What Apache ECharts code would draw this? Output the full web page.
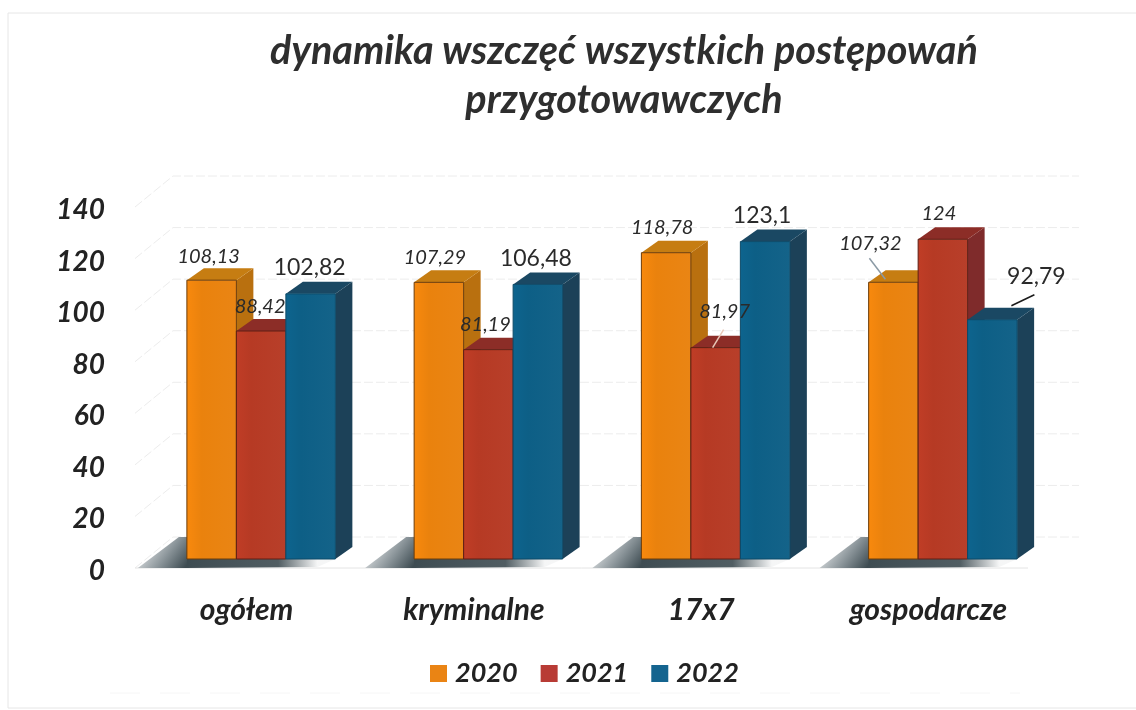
<!DOCTYPE html>
<html><head><meta charset="utf-8">
<style>html,body{margin:0;padding:0;background:#fff}#c{width:1136px;height:710px}</style>
<script src="https://cdn.jsdelivr.net/npm/echarts@6/dist/echarts.min.js"></script>
</head><body><div id="c"></div>
<script>
const categories = ['ogółem', 'kryminalne', '17x7', 'gospodarcze'];
const years = ['2020', '2021', '2022'];
const values2020 = [108.13, 107.29, 118.78, 107.32];
const values2021 = [88.42, 81.19, 81.97, 124];
const values2022 = [102.82, 106.48, 123.1, 92.79];
const yTicks = [0, 20, 40, 60, 80, 100, 120, 140];

const allValues = [values2020, values2021, values2022];
const palette = [
  {front: '#ea820d', side: '#b9700f', top: '#c67d12', edge: '#6b3c0a', legend: '#ea8414'},
  {front: '#b63a24', side: '#7f2b2b', top: '#8c2d27', edge: '#5e1f14', legend: '#b83b35'},
  {front: '#0d5f86', side: '#1c4158', top: '#1a4863', edge: '#0d4a68', legend: '#14648f'}
];
// label offsets from the top centre of each bar's front face [year][category]
const labelShift = [
  [[-3, -24], [-4, -25], [-4, -25], [-23, -39]],
  [[-1, -24], [-3, -25], [9, -36], [-4, -26]],
  [[-1, -26], [-2, -26], [-3, -26], [44, -43]]
];
// leader lines relative to the same point
const leaders = [
  [null, null, null, [-24, -24, -8, -3]],
  [null, null, [8, -18, -3, 0], null],
  [null, null, null, [42, -25, 19, -14]]
];
const leaderColor = ['#8b9aa5', '#e8c8b8', '#1a1a1a'];

const DX = 17, DY = 12, OFFX = 14.5, OFFY = 9, BAND = 0.2178;
const FONT = 'Lato';
const G = echarts.graphic;

function barGeom(api, yi) {
  const cat = api.value(0), v = api.value(1);
  const w = api.size([1, 0])[0] * BAND;
  const c = api.coord([cat, v]);
  const b = api.coord([cat, 0]);
  const cx = c[0] + OFFX + (yi - 1) * w;
  return {cat, v, w, cx, l: cx - w / 2, r: cx + w / 2, t: c[1] - OFFY, b: b[1] - OFFY};
}
function barSeries(yi) {
  const p = palette[yi];
  return {
    type: 'custom', name: years[yi], z: 3,
    itemStyle: {color: p.legend},
    encode: {x: 0, y: 1},
    data: allValues[yi].map((v, i) => [i, v]),
    renderItem(params, api) {
      const g = barGeom(api, yi);
      const frontFill = new G.LinearGradient(g.l, 0, g.r, 0, [
        {offset: 0, color: echarts.color.lift(p.front, -0.06)},
        {offset: 0.3, color: p.front},
        {offset: 1, color: echarts.color.lift(p.front, 0.03)}
      ], true);
      return {type: 'group', children: [
        {type: 'polygon', shape: {points: [[g.r, g.t], [g.r + DX, g.t - DY], [g.r + DX, g.b - DY], [g.r, g.b]]}, style: {fill: p.side}},
        {type: 'polygon', shape: {points: [[g.l, g.t], [g.l + DX, g.t - DY], [g.r + DX, g.t - DY], [g.r, g.t]]}, style: {fill: p.top}},
        {type: 'rect', shape: {x: g.l, y: g.t, width: g.w, height: g.b - g.t}, style: {fill: frontFill, stroke: p.edge, lineWidth: 1}}
      ]};
    }
  };
}
function labelSeries(yi) {
  return {
    type: 'custom', name: 'labels' + years[yi], z: 4, silent: true,
    encode: {x: 0, y: 1},
    data: allValues[yi].map((v, i) => [i, v]),
    renderItem(params, api) {
      const g = barGeom(api, yi);
      const s = labelShift[yi][g.cat], ld = leaders[yi][g.cat];
      const kids = [{
        type: 'text', x: g.cx + s[0], y: g.t + s[1],
        style: {
          text: String(g.v).replace('.', ','), align: 'center', verticalAlign: 'middle',
          font: (yi === 2 ? 'normal 23px ' : 'italic 20px ') + FONT,
          fill: '#2a2a2a'
        }
      }];
      if (ld) kids.unshift({
        type: 'line',
        shape: {x1: g.cx + ld[0], y1: g.t + ld[1], x2: g.cx + ld[2], y2: g.t + ld[3]},
        style: {stroke: leaderColor[yi], lineWidth: 1.5}
      });
      return {type: 'group', children: kids};
    }
  };
}
const wallSeries = {
  type: 'custom', name: 'walls', z: 1, silent: true,
  encode: {x: 0, y: 1},
  data: yTicks.map(t => [0, t]),
  renderItem(params, api) {
    const y = api.coord([0, api.value(1)])[1];
    const x0 = params.coordSys.x;
    const x1 = x0 + params.coordSys.width;
    const st = {stroke: '#ececec', lineWidth: 1, fill: null, lineDash: [9, 3]};
    const kids = [
      {type: 'polyline', shape: {points: [[x0 + 2, y], [x0 + 40, y - 31], [x1 + 37, y - 31]]}, style: st}
    ];
    if (api.value(1) === 0) kids.push({type: 'line', shape: {x1: x0 + 2, y1: y, x2: x1 - 14, y2: y}, style: {stroke: '#e4e4e4', lineWidth: 1}});
    return {type: 'group', children: kids};
  }
};
const shadowSeries = {
  type: 'custom', name: 'shadow', z: 2, silent: true,
  encode: {x: 0, y: 1},
  data: categories.map((c, i) => [i, 0]),
  renderItem(params, api) {
    const w = api.size([1, 0])[0] * BAND;
    const c = api.coord([api.value(0), 0]);
    const bx = c[0] + OFFX - 1.5 * w, by = c[1] - OFFY;
    const fillL = new G.LinearGradient(bx, by + 6, bx - 35, by - 20, [
      {offset: 0, color: '#3e4c52'},
      {offset: 0.5, color: '#8a9499'},
      {offset: 1, color: '#d6dadc'}
    ], true);
    const fillB = new G.LinearGradient(bx, 0, bx + 3 * w - 18, 0, [
      {offset: 0, color: 'rgba(62,76,82,1)'},
      {offset: 0.7, color: 'rgba(62,76,82,0.9)'},
      {offset: 1, color: 'rgba(62,76,82,0.05)'}
    ], true);
    return {type: 'group', children: [
      {type: 'polygon', shape: {points: [[bx - 49, by + 9], [bx - 8, by - 22], [bx + 2, by - 22], [bx + 2, by + 9]]}, style: {fill: fillL}},
      {type: 'polygon', shape: {points: [[bx, by], [bx + 3 * w, by], [bx + 3 * w - 18, by + 8], [bx, by + 9]]}, style: {fill: fillB}}
    ]};
  }
};

const chart = echarts.init(document.getElementById('c'), null, {renderer: 'canvas'});
chart.setOption({
  animation: false,
  backgroundColor: '#fff',
  title: {
    text: 'dynamika wszczęć wszystkich postępowań\nprzygotowawczych',
    left: 619, top: 22, textAlign: 'center',
    textStyle: {fontFamily: FONT, fontStyle: 'italic', fontWeight: 'bold', fontSize: 39.6, lineHeight: 49, color: '#2e2e2e'}
  },
  legend: {
    data: years, left: 425, top: 655, itemWidth: 17, itemHeight: 17, itemGap: 23, icon: 'rect',
    textStyle: {fontFamily: FONT, fontStyle: 'italic', fontWeight: 'bold', fontSize: 27, color: '#222', padding: [0, 0, 0, 3]}
  },
  grid: {left: 133, width: 909, top: 207, height: 361},
  xAxis: {
    type: 'category', data: categories,
    axisLine: {show: false}, axisTick: {show: false},
    axisLabel: {margin: 27, fontFamily: FONT, fontStyle: 'italic', fontWeight: 'bold', fontSize: 30, color: '#222'}
  },
  yAxis: {
    type: 'value', min: 0, max: 140, interval: 20,
    axisLine: {show: false}, axisTick: {show: false}, splitLine: {show: false},
    axisLabel: {margin: 28, verticalAlign: 'top', lineHeight: 6, fontFamily: FONT, fontStyle: 'italic', fontWeight: 'bold', fontSize: 28, color: '#222'}
  },
  graphic: [
    {type: 'polyline', z: -1, silent: true, shape: {points: [[1136, 13], [8, 13], [8, 708], [1136, 708]]}, style: {fill: 'none', stroke: '#e6e6e6', lineWidth: 1}},
    {type: 'line', z: -1, silent: true, shape: {x1: 110, y1: 693, x2: 1020, y2: 693}, style: {stroke: '#f6f6f6', lineWidth: 1, lineDash: [30, 20]}}
  ],
  series: [wallSeries, shadowSeries, barSeries(0), barSeries(1), barSeries(2), labelSeries(0), labelSeries(1), labelSeries(2)]
});
</script></body></html>
